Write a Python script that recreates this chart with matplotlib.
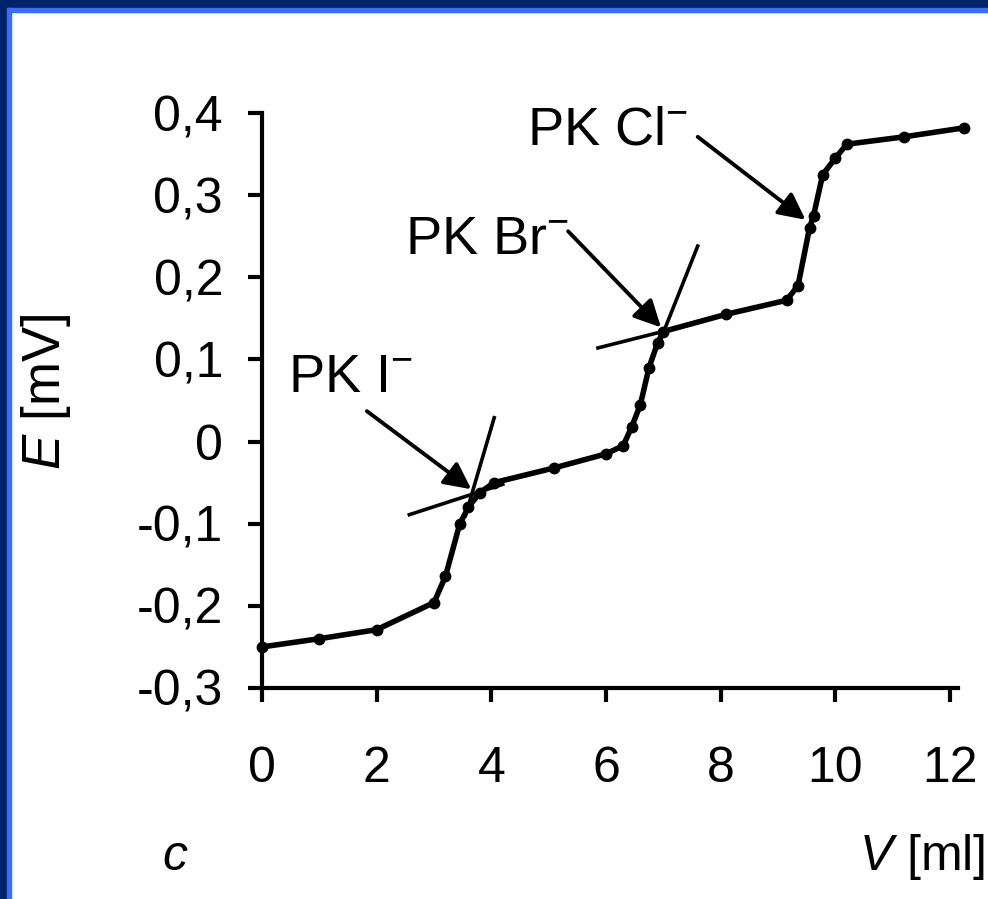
import matplotlib
matplotlib.use("Agg")
import matplotlib.pyplot as plt
from matplotlib.patches import Rectangle

plt.rcParams['font.family'] = ['Liberation Sans', 'DejaVu Sans']
plt.rcParams['mathtext.fontset'] = 'custom'
plt.rcParams['mathtext.rm'] = 'Liberation Sans'
plt.rcParams['mathtext.it'] = 'Liberation Sans:italic'

# titration curve
V = [0, 1.0, 2.0, 3.0, 3.2, 3.45, 3.6, 3.8, 4.05, 5.1, 6.0, 6.3, 6.45,
     6.6, 6.75, 6.9, 7.0, 8.1, 9.15, 9.35, 9.55, 9.62, 9.78, 10.0, 10.2,
     11.2, 12.25]
E = [-0.25, -0.24, -0.229, -0.196, -0.164, -0.10, -0.08, -0.062, -0.05,
     -0.032, -0.015, -0.005, 0.018, 0.045, 0.09, 0.12, 0.134, 0.155, 0.172,
     0.19, 0.26, 0.275, 0.325, 0.345, 0.362, 0.371, 0.382]

xticks = [0, 2, 4, 6, 8, 10, 12]
yticks = [-0.3, -0.2, -0.1, 0, 0.1, 0.2, 0.3, 0.4]
ytick_labels = ['-0,3', '-0,2', '-0,1', '0', '0,1', '0,2', '0,3', '0,4']

# tangent lines at the equivalence points (start, end)
tangents = [((2.57, -0.089), (4.2, -0.052)),
            ((4.05, 0.029), (3.55, -0.09)),
            ((5.86, 0.114), (7.5, 0.143)),
            ((7.6, 0.238), (6.9, 0.115))]

labels = [r'PK I$^{-}$', r'PK Br$^{-}$', r'PK Cl$^{-}$']
label_pos = [(0.45, 0.060), (2.5, 0.228), (4.62, 0.362)]
arrow_from = [(1.83, 0.037), (5.34, 0.256), (7.6, 0.371)]
arrow_to = [(3.65, -0.058), (6.96, 0.139), (9.48, 0.27)]

W, H = 988, 899
fig = plt.figure(figsize=(W / 100, H / 100), dpi=100, facecolor='white')

# blue frame along top and left edge
fig.patches.append(Rectangle((0, 1 - 8 / H), 1, 8 / H, transform=fig.transFigure,
                             color='#00226a', zorder=0))
fig.patches.append(Rectangle((0, 1 - 12 / H), 1, 4 / H, transform=fig.transFigure,
                             color='#3a6cff', zorder=0))
fig.patches.append(Rectangle((0, 0), 7 / W, 1, transform=fig.transFigure,
                             color='#00226a', zorder=1))
fig.patches.append(Rectangle((7 / W, 0), 4 / W, 1 - 8 / H, transform=fig.transFigure,
                             color='#3a6cff', zorder=1))

x0, x1 = 262, 958
y0, y1 = 688, 113
ax = fig.add_axes([x0 / W, 1 - y0 / H, (x1 - x0) / W, (y0 - y1) / H])
ax.set_xlim(0, 12.14)
ax.set_ylim(-0.3, 0.4)

ax.plot(V, E, color='black', lw=4, marker='o', ms=7.5, clip_on=False,
        solid_capstyle='round', solid_joinstyle='round', zorder=3)

for (a, b) in tangents:
    ax.plot([a[0], b[0]], [a[1], b[1]], color='black', lw=2.6, clip_on=False)

for txt, pos, p0, p1 in zip(labels, label_pos, arrow_from, arrow_to):
    ax.text(pos[0], pos[1], txt, fontsize=39, ha='left', va='baseline')
    ax.annotate('', xy=p1, xytext=p0,
                arrowprops=dict(arrowstyle='-|>,head_length=0.9,head_width=0.45',
                                mutation_scale=18, lw=2.8, color='black',
                                shrinkA=0, shrinkB=0))

for side in ['top', 'right']:
    ax.spines[side].set_visible(False)
for side in ['left', 'bottom']:
    ax.spines[side].set_linewidth(3)

ax.set_xticks(xticks)
ax.set_xticklabels([str(t) for t in xticks])
ax.set_yticks(yticks)
ax.set_yticklabels(ytick_labels)
ax.tick_params(axis='both', direction='out', length=10, width=3, labelsize=36)
ax.tick_params(axis='y', pad=18)
ax.tick_params(axis='x', pad=32)

fig.text(46 / W, 1 - 392 / H, r'$E$ [mV]', rotation=90, fontsize=38,
         ha='center', va='center')
fig.text(985 / W, 1 - 870 / H, r'$V$ [ml]', fontsize=36, ha='right', va='baseline')
fig.text(162 / W, 1 - 870 / H, r'$c$', fontsize=36, ha='left', va='baseline')

fig.savefig('out.png', dpi=100, facecolor='white')
